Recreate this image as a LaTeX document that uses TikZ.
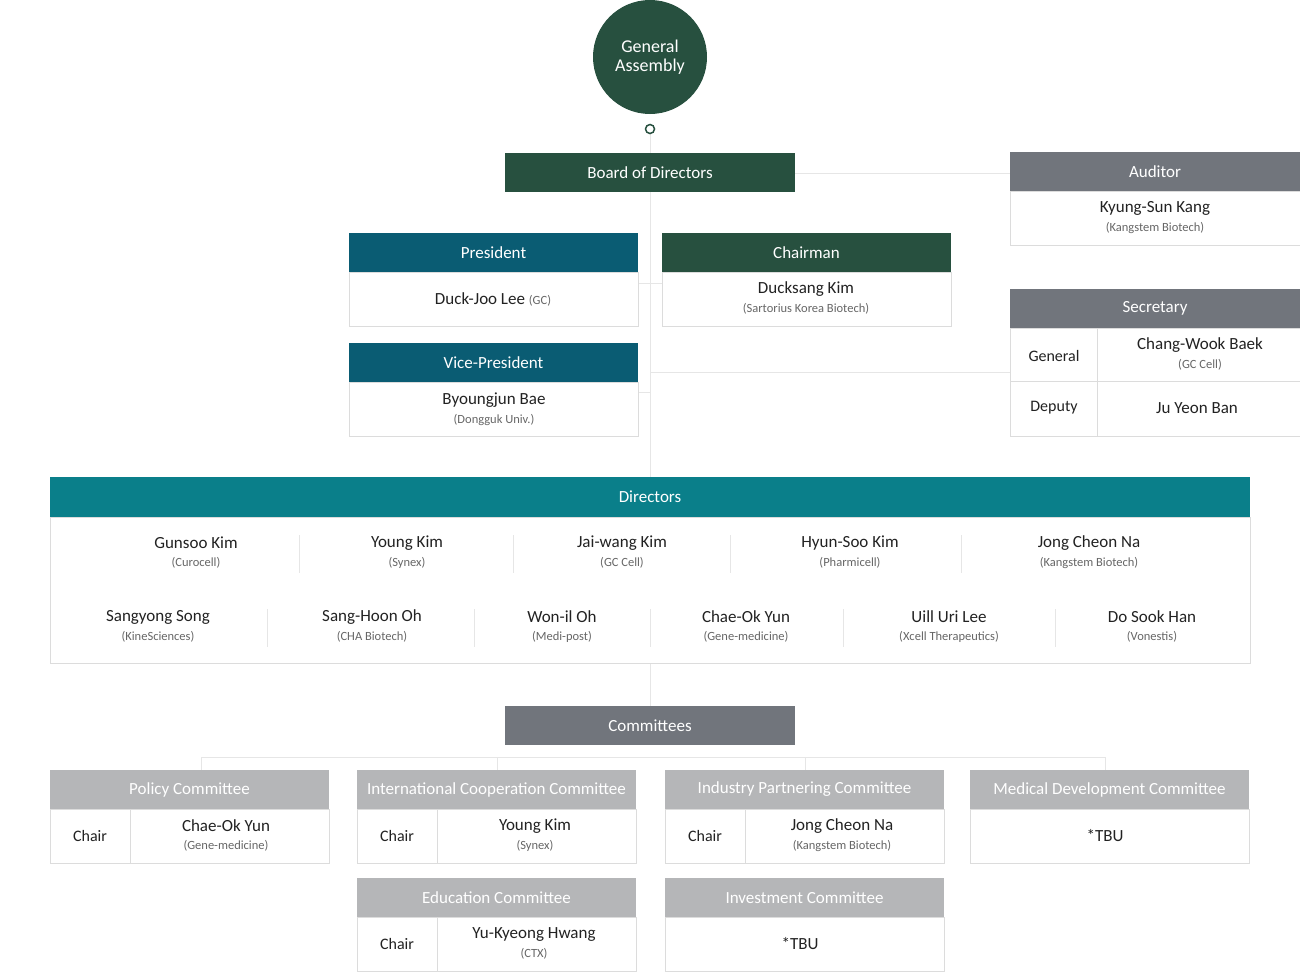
\documentclass[tikz,border=0pt]{standalone}
\usepackage{fontspec}
\setmainfont{Carlito}
\definecolor{dgreen}{HTML}{27503F}
\definecolor{dblue}{HTML}{0A5C73}
\definecolor{teal}{HTML}{0A7F8A}
\definecolor{mgray}{HTML}{71757C}
\definecolor{lgray}{HTML}{B5B6B8}
\definecolor{bline}{HTML}{DCDCDC}
\definecolor{cline}{HTML}{E6E6E6}
\definecolor{ntext}{HTML}{222222}
\definecolor{stext}{HTML}{666666}
\tikzset{
 hdr/.style={fill=#1,draw=none,text=white,font=\fontsize{17}{20}\selectfont},
 bodybox/.style={draw=bline,fill=white,line width=1pt},
 conn/.style={draw=cline,line width=1pt},
 nm/.style={text=ntext,font=\fontsize{17}{20}\selectfont,align=center},
 sm/.style={text=stext,font=\fontsize{12.5}{15}\selectfont},
 lbl/.style={text=ntext,font=\fontsize{16}{19}\selectfont},
}
% \mkbox{name}{x1}{x2}{yh1}{yh2}{yb2}{color}{title}
\newcommand\mkbox[8]{%
 \fill[#7] (#2,#4) rectangle (#3,#5);
 \node[hdr=#7] (#1) at ({(#2+#3)/2},{(#4+#5)/2}) {#8};
 \draw[bodybox] (#2,#5) rectangle (#3,#6);
 \coordinate (#1-L) at (#2,{(#4+#6)/2});
}
\newcommand\person[4]{% x y name sub
 \node[nm] at (#1,#2) {#3};
 \node[sm] at (#1,{#2+20}) {#4};
}
\begin{document}
\begin{tikzpicture}[x=1pt,y=-1pt]
\useasboundingbox (0,0) rectangle (1300,972);
% connectors
\coordinate (dot) at (650,129);
\coordinate (cm) at (650,706);
\draw[conn] (dot) -- (cm);
\draw[conn] (795,173) -- (1010,173);
\draw[conn] (638,283) -- (662,283);
\draw[conn] (638,392) -- (650,392);
\draw[conn] (650,372) -- (1010,372);
\draw[conn] (201,770) -- (201,757) -- (1105,757) -- (1105,770);
\draw[conn] (497,757) -- (497,770);
\draw[conn] (805,757) -- (805,770);
% general assembly
\node[circle,fill=dgreen,minimum size=114pt,inner sep=0pt,text=white,align=center,font=\fontsize{18}{19}\selectfont] (ga) at (650,57) {General\\Assembly};
\node[circle,draw=dgreen,fill=white,line width=1.5pt,minimum size=9pt,inner sep=0pt] (gadot) at (dot) {};
% board
\fill[dgreen] (505,153) rectangle (795,192);
\node[hdr=dgreen] (board) at (650,173) {Board of Directors};
% auditor
\mkbox{aud}{1010}{1300}{152}{191}{245}{mgray}{Auditor}
\person{1155}{208}{Kyung-Sun Kang}{(Kangstem Biotech)}
% president
\mkbox{pres}{349}{638}{233}{272}{326}{dblue}{President}
\node[nm] at (493,299) {Duck-Joo Lee \textcolor{stext}{\fontsize{12.5}{15}\selectfont(GC)}};
% chairman
\mkbox{chair}{662}{951}{233}{272}{326}{dgreen}{Chairman}
\person{806}{289}{Ducksang Kim}{(Sartorius Korea Biotech)}
% vice
\mkbox{vice}{349}{638}{343}{382}{436}{dblue}{Vice-President}
\person{494}{400}{Byoungjun Bae}{(Dongguk Univ.)}
% secretary
\mkbox{sec}{1010}{1300}{289}{328}{436}{mgray}{Secretary}
\draw[bline,line width=1pt] (1010,381) -- (1300,381) (1097,328) -- (1097,436);
\node[lbl] at (1054,356) {General};
\node[lbl] at (1054,408) {Deputy};
\person{1200}{345}{Chang-Wook Baek}{(GC Cell)}
\node[nm] at (1197,408) {Ju Yeon Ban};
% directors
\mkbox{dir}{50}{1250}{477}{517}{663}{teal}{Directors}
\foreach \x in {299,513,730,961} \draw[cline,line width=1pt] (\x,535) -- (\x,573);
\foreach \x in {267,474,650,843,1055} \draw[cline,line width=1pt] (\x,609) -- (\x,647);
\person{196}{543}{Gunsoo Kim}{(Curocell)}
\person{407}{543}{Young Kim}{(Synex)}
\person{622}{543}{Jai-wang Kim}{(GC Cell)}
\person{850}{543}{Hyun-Soo Kim}{(Pharmicell)}
\person{1089}{543}{Jong Cheon Na}{(Kangstem Biotech)}
\person{158}{617}{Sangyong Song}{(KineSciences)}
\person{372}{617}{Sang-Hoon Oh}{(CHA Biotech)}
\person{562}{617}{Won-il Oh}{(Medi-post)}
\person{746}{617}{Chae-Ok Yun}{(Gene-medicine)}
\person{949}{617}{Uill Uri Lee}{(Xcell Therapeutics)}
\person{1152}{617}{Do Sook Han}{(Vonestis)}
% committees
\fill[mgray] (505,706) rectangle (795,745);
\node[hdr=mgray] (comm) at (650,726) {Committees};
\mkbox{pol}{50}{329}{770}{809}{863}{lgray}{Policy Committee}
\draw[bline,line width=1pt] (130,809) -- (130,863);
\node[lbl] at (90,836) {Chair};
\person{226}{826}{Chae-Ok Yun}{(Gene-medicine)}
\mkbox{intl}{357}{636}{770}{809}{863}{lgray}{International Cooperation Committee}
\draw[bline,line width=1pt] (437,809) -- (437,863);
\node[lbl] at (397,836) {Chair};
\person{535}{826}{Young Kim}{(Synex)}
\mkbox{ind}{665}{944}{770}{809}{863}{lgray}{Industry Partnering Committee}
\draw[bline,line width=1pt] (745,809) -- (745,863);
\node[lbl] at (705,836) {Chair};
\person{842}{826}{Jong Cheon Na}{(Kangstem Biotech)}
\mkbox{med}{970}{1249}{770}{809}{863}{lgray}{Medical Development Committee}
\node[nm] at (1105,836) {*TBU};
\mkbox{edu}{357}{636}{878}{917}{971}{lgray}{Education Committee}
\draw[bline,line width=1pt] (437,917) -- (437,971);
\node[lbl] at (397,944) {Chair};
\person{534}{934}{Yu-Kyeong Hwang}{(CTX)}
\mkbox{inv}{665}{944}{878}{917}{971}{lgray}{Investment Committee}
\node[nm] at (800,944) {*TBU};
\end{tikzpicture}
\end{document}
